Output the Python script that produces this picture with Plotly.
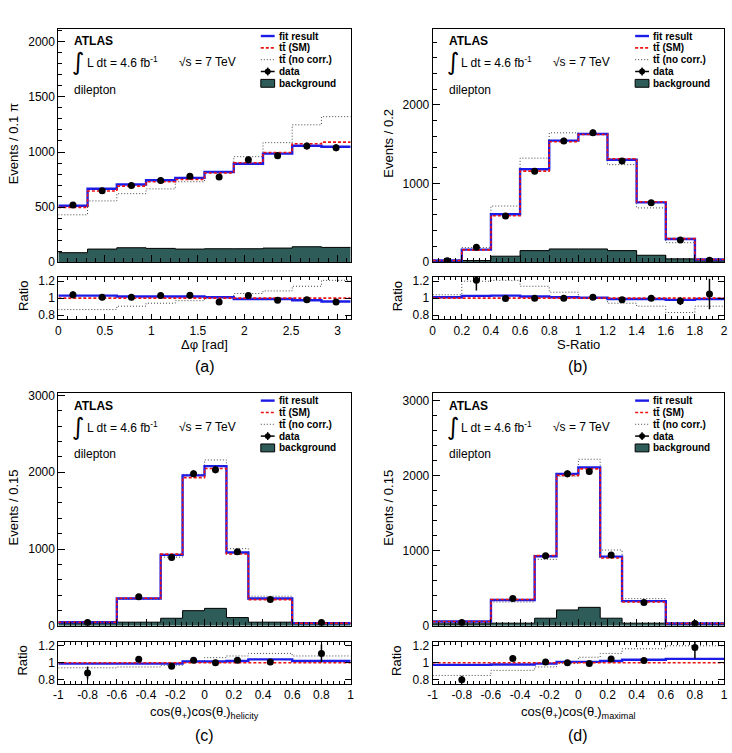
import numpy as np
import plotly.graph_objects as go

W, H = 732, 753
PI = float(np.pi)

# ---------------- data: panel (a) delta phi ----------------
edges_a = [k * 0.1 * PI for k in range(11)]
fit_a = [512, 667, 705, 744, 765, 818, 893, 985, 1057, 1048]
sm_a = [497, 646, 690, 730, 750, 810, 903, 995, 1075, 1090]
nocorr_a = [430, 556, 622, 665, 730, 818, 958, 1085, 1247, 1321]
data_a = [518, 648, 697, 742, 780, 774, 929, 967, 1054, 1039]
err_a = [23, 25, 26, 27, 28, 28, 30, 31, 32, 32]
bg_a = [86, 119, 131, 125, 119, 122, 122, 128, 140, 134]
rfit_a = [1.03, 1.03, 1.02, 1.02, 1.02, 1.01, 0.99, 0.99, 0.975, 0.96]
rnoc_a = [0.865, 0.865, 0.905, 0.94, 0.97, 1.01, 1.055, 1.085, 1.14, 1.21]
rdat_a = [1.04, 1.01, 1.01, 1.03, 1.035, 0.955, 1.03, 0.975, 0.98, 0.955]
rerr_a = [0.04, 0.035, 0.035, 0.035, 0.035, 0.035, 0.03, 0.03, 0.03, 0.03]

# ---------------- data: panel (b) S-ratio ----------------
edges_b = [0, 0.2, 0.4, 0.6, 0.8, 1.0, 1.2, 1.4, 1.6, 1.8, 2.0]
fit_b = [21, 160, 609, 1181, 1546, 1630, 1303, 761, 294, 34]
sm_b = [21, 156, 591, 1158, 1531, 1624, 1316, 769, 300, 34]
nocorr_b = [22, 185, 714, 1323, 1645, 1625, 1240, 690, 248, 31]
data_b = [17, 189, 588, 1155, 1542, 1647, 1286, 756, 282, 25]
err_b = [4, 14, 24, 34, 39, 41, 36, 27, 17, 5]
bg_b = [13, 21, 76, 147, 168, 168, 147, 88, 42, 17]
rfit_b = [1.01, 1.027, 1.03, 1.02, 1.01, 1.004, 0.99, 0.99, 0.98, 0.99]
rnoc_b = [1.04, 1.2, 1.21, 1.14, 1.07, 1.0, 0.94, 0.905, 0.83, 0.905]
rdat_b = [None, 1.21, 0.995, 1.0, 1.0, 1.01, 0.98, 1.0, 0.965, 1.05]
rerr_b = [0, 0.12, 0.03, 0.025, 0.02, 0.02, 0.025, 0.03, 0.045, 0.18]

# ---------------- data: panel (c) helicity ----------------
edges_c = [-1, -0.6, -0.3, -0.15, 0, 0.15, 0.3, 0.6, 1]
fit_c = [47, 355, 924, 1960, 2080, 954, 355, 34]
sm_c = [47, 359, 933, 1931, 2049, 935, 341, 33]
nocorr_c = [44, 342, 895, 1973, 2161, 1005, 385, 36]
data_c = [43, 377, 890, 1981, 2033, 963, 342, 43]
err_c = [7, 19, 30, 45, 45, 31, 18, 7]
bg_c = [34, 47, 98, 197, 227, 107, 47, 30]
rfit_c = [0.99, 0.99, 0.99, 1.015, 1.015, 1.02, 1.04, 1.02]
rnoc_c = [0.94, 0.95, 0.97, 1.02, 1.06, 1.08, 1.11, 1.08]
rdat_c = [0.88, 1.04, 0.96, 1.03, 1.0, 1.03, 1.01, 1.11]
rerr_c = [0.075, 0.03, 0.03, 0.02, 0.02, 0.03, 0.03, 0.105]

# ---------------- data: panel (d) maximal ----------------
edges_d = [-1, -0.6, -0.3, -0.15, 0, 0.15, 0.3, 0.6, 1]
fit_d = [57, 343, 927, 2025, 2112, 922, 329, 31]
sm_d = [58, 350, 936, 2005, 2091, 904, 318, 30]
nocorr_d = [47, 317, 885, 1995, 2220, 1010, 362, 36]
data_d = [45, 365, 935, 2025, 2055, 944, 312, 31]
err_d = [7, 19, 31, 45, 45, 31, 18, 6]
bg_d = [26, 35, 101, 211, 246, 101, 35, 26]
rfit_d = [0.975, 0.98, 0.99, 1.01, 1.01, 1.02, 1.035, 1.045]
rnoc_d = [0.85, 0.91, 0.95, 0.99, 1.065, 1.11, 1.165, 1.2]
rdat_d = [0.80, 1.05, 1.01, 1.0, 0.99, 1.045, 1.025, 1.18]
rerr_d = [0.045, 0.03, 0.03, 0.02, 0.02, 0.03, 0.03, 0.13]

# ---------------- axis labels ----------------
xticks_a = [0, 0.5, 1, 1.5, 2, 2.5, 3]
xticks_b = [0, 0.2, 0.4, 0.6, 0.8, 1, 1.2, 1.4, 1.6, 1.8, 2]
xticks_cd = [-1, -0.8, -0.6, -0.4, -0.2, 0, 0.2, 0.4, 0.6, 0.8, 1]
yticks_a = [0, 500, 1000, 1500, 2000]
yticks_b = [0, 1000, 2000]
yticks_cd = [0, 1000, 2000, 3000]
rticks = [0.8, 1, 1.2]

panels = [
    dict(edges=edges_a, fit=fit_a, sm=sm_a, noc=nocorr_a, dat=data_a, err=err_a, bg=bg_a,
         rfit=rfit_a, rnoc=rnoc_a, rdat=rdat_a, rerr=rerr_a, xr=[0, PI], yr=[0, 2120],
         xt=xticks_a, yt=yticks_a, ymin=100, xmin=0.1, ytitle="Events / 0.1 π",
         xtitle="Δφ [rad]", lab="(a)"),
    dict(edges=edges_b, fit=fit_b, sm=sm_b, noc=nocorr_b, dat=data_b, err=err_b, bg=bg_b,
         rfit=rfit_b, rnoc=rnoc_b, rdat=rdat_b, rerr=rerr_b, xr=[0, 2], yr=[0, 2970],
         xt=xticks_b, yt=yticks_b, ymin=200, xmin=0.04, ytitle="Events / 0.2",
         xtitle="S-Ratio", lab="(b)"),
    dict(edges=edges_c, fit=fit_c, sm=sm_c, noc=nocorr_c, dat=data_c, err=err_c, bg=bg_c,
         rfit=rfit_c, rnoc=rnoc_c, rdat=rdat_c, rerr=rerr_c, xr=[-1, 1], yr=[0, 3030],
         xt=xticks_cd, yt=yticks_cd, ymin=200, xmin=0.04, ytitle="Events / 0.15",
         xtitle="cos(θ<sub>+</sub>)cos(θ<sub>-</sub>)<sub>helicity</sub>", lab="(c)"),
    dict(edges=edges_d, fit=fit_d, sm=sm_d, noc=nocorr_d, dat=data_d, err=err_d, bg=bg_d,
         rfit=rfit_d, rnoc=rnoc_d, rdat=rdat_d, rerr=rerr_d, xr=[-1, 1], yr=[0, 3100],
         xt=xticks_cd, yt=yticks_cd, ymin=200, xmin=0.04, ytitle="Events / 0.15",
         xtitle="cos(θ<sub>+</sub>)cos(θ<sub>-</sub>)<sub>maximal</sub>", lab="(d)"),
]

FONT = "Liberation Sans, Arial, Helvetica, sans-serif"
TEAL = "#2e5c58"
BLUE = "#1c1ce6"
RED = "#ee1111"
GREY = "#444444"
RDASH = "3px,2px"
GDOT = "1px,2px"


def X(p):
    return p / W


def Y(p):
    return 1 - p / H


def fmt(v):
    return "%g" % v


cols = [(54, 350), (433, 728)]
rows = [dict(mt=25, mb=262, rt=277, rb=320, title=346, lab=368),
        dict(mt=395, mb=631, rt=647, rb=690, title=719, lab=742)]

fig = go.Figure()
layout = {}
shapes = []
ann = []


def axname(n, kind):
    return kind if n == 1 else f"{kind}{n}"


def step_y(v):
    return list(v) + [v[-1]]


def text(x, y, s, size=12, family=FONT, anchor="left", angle=0):
    ann.append(dict(x=X(x), y=Y(y), xref="paper", yref="paper", text=s, showarrow=False,
                    xanchor=anchor, yanchor="middle", textangle=angle,
                    font=dict(family=family, size=size, color="black")))


for i, P in enumerate(panels):
    L, R = cols[i % 2]
    row = rows[i // 2]
    T = row["mt"]
    nm, nr = 2 * i + 1, 2 * i + 2
    xm, ym = axname(nm, "x"), axname(nm, "y")
    xr, yr = axname(nr, "x"), axname(nr, "y")
    e = P["edges"]
    centers = [(e[k] + e[k + 1]) / 2 for k in range(len(e) - 1)]

    # ---- main panel ----
    fig.add_trace(go.Scatter(x=e, y=step_y(P["bg"]), mode="lines", line_shape="hv",
                             fill="tozeroy", fillcolor=TEAL,
                             line=dict(color="black", width=1), xaxis=xm, yaxis=ym,
                             showlegend=False, hoverinfo="skip"))
    fig.add_trace(go.Scatter(x=e, y=step_y(P["noc"]), mode="lines", line_shape="hv",
                             line=dict(color=GREY, width=1, dash=GDOT), xaxis=xm, yaxis=ym,
                             showlegend=False))
    fig.add_trace(go.Scatter(x=e, y=step_y(P["fit"]), mode="lines", line_shape="hv",
                             line=dict(color=BLUE, width=2.4), xaxis=xm, yaxis=ym,
                             showlegend=False))
    fig.add_trace(go.Scatter(x=e, y=step_y(P["sm"]), mode="lines", line_shape="hv",
                             line=dict(color=RED, width=1.6, dash=RDASH), xaxis=xm, yaxis=ym,
                             showlegend=False))
    fig.add_trace(go.Scatter(x=centers, y=P["dat"], mode="markers",
                             marker=dict(color="black", size=7),
                             error_y=dict(type="data", array=P["err"], width=0, thickness=1.5,
                                          color="black"),
                             xaxis=xm, yaxis=ym, showlegend=False))

    # ---- ratio panel ----
    rsm = [a / b for a, b in zip(P["sm"], P["sm"])]
    fig.add_trace(go.Scatter(x=e, y=step_y(P["rnoc"]), mode="lines", line_shape="hv",
                             line=dict(color=GREY, width=1, dash=GDOT), xaxis=xr, yaxis=yr,
                             showlegend=False))
    fig.add_trace(go.Scatter(x=e, y=step_y(P["rfit"]), mode="lines", line_shape="hv",
                             line=dict(color=BLUE, width=2.4), xaxis=xr, yaxis=yr,
                             showlegend=False))
    fig.add_trace(go.Scatter(x=e, y=step_y(rsm), mode="lines", line_shape="hv",
                             line=dict(color=RED, width=1.6, dash=RDASH), xaxis=xr, yaxis=yr,
                             showlegend=False))
    fig.add_trace(go.Scatter(x=centers, y=P["rdat"], mode="markers",
                             marker=dict(color="black", size=7),
                             error_y=dict(type="data", array=P["rerr"], width=0, thickness=1.5,
                                          color="black"),
                             xaxis=xr, yaxis=yr, showlegend=False))

    xdom = [X(L), X(R)]
    common = dict(showline=True, linecolor="black", linewidth=1, showgrid=False,
                  zeroline=False, ticks="inside", tickcolor="black",
                  tickfont=dict(family=FONT, size=12, color="black"))
    layout[axname(nm, "xaxis")] = dict(common, domain=xdom, range=P["xr"], anchor=ym,
                                       mirror=True, tickmode="array", tickvals=P["xt"],
                                       showticklabels=False, ticklen=7,
                                       minor=dict(ticks="inside", ticklen=4, tick0=P["xr"][0],
                                                  dtick=P["xmin"], tickcolor="black"))
    layout[axname(nm, "yaxis")] = dict(common, domain=[Y(row["mb"]), Y(row["mt"])],
                                       range=P["yr"], anchor=xm, mirror=True,
                                       tickmode="array", tickvals=P["yt"],
                                       ticktext=[fmt(v) for v in P["yt"]], ticklen=7,
                                       minor=dict(ticks="inside", ticklen=4, tick0=0,
                                                  dtick=P["ymin"], tickcolor="black"))
    layout[axname(nr, "xaxis")] = dict(common, domain=xdom, range=P["xr"], anchor=yr,
                                       mirror="ticks", tickmode="array", tickvals=P["xt"],
                                       ticktext=[fmt(v) for v in P["xt"]], ticklen=5,
                                       minor=dict(ticks="inside", ticklen=3, tick0=P["xr"][0],
                                                  dtick=P["xmin"], tickcolor="black"))
    layout[axname(nr, "yaxis")] = dict(common, domain=[Y(row["rb"]), Y(row["rt"])],
                                       range=[0.75, 1.25], anchor=xr, mirror="ticks",
                                       tickmode="array", tickvals=rticks,
                                       ticktext=[fmt(v) for v in rticks], ticklen=6)

    # ---- axis titles and panel labels ----
    text(L - 45, (row["mt"] + row["mb"]) / 2 - 2, P["ytitle"], 13, anchor="center", angle=-90)
    text(L - 36, (row["rt"] + row["rb"]) / 2 - 2, "Ratio", 13, anchor="center", angle=-90)
    text((L + R) / 2, row["title"], P["xtitle"], 13, anchor="center")
    text((L + R) / 2, row["lab"], P["lab"], 16, anchor="center")

    # ---- ATLAS text block ----
    text(L + 14, T + 12.5, "<b>ATLAS</b>", 12)
    text(L + 12, T + 34, "∫", 24, family="DejaVu Sans")
    text(L + 27, T + 34, "L dt = 4.6 fb<sup>-1</sup>", 12)
    text(L + 120, T + 34, "√s = 7 TeV", 12)
    text(L + 14, T + 62, "dilepton", 12)

    # ---- legend ----
    x0, x1, xt = L + 205, L + 219, L + 221
    ys = [T + 7.5, T + 19.5, T + 31.5, T + 43.5, T + 55.5]
    labels = ["fit result", "tt\u0304 (SM)", "tt\u0304 (no corr.)", "data", "background"]
    shapes.append(dict(type="line", xref="paper", yref="paper", x0=X(x0), x1=X(x1),
                       y0=Y(ys[0]), y1=Y(ys[0]), line=dict(color=BLUE, width=2.4)))
    shapes.append(dict(type="line", xref="paper", yref="paper", x0=X(x0), x1=X(x1),
                       y0=Y(ys[1]), y1=Y(ys[1]), line=dict(color=RED, width=1.6, dash=RDASH)))
    shapes.append(dict(type="line", xref="paper", yref="paper", x0=X(x0), x1=X(x1),
                       y0=Y(ys[2]), y1=Y(ys[2]), line=dict(color=GREY, width=1, dash=GDOT)))
    shapes.append(dict(type="line", xref="paper", yref="paper", x0=X(x0), x1=X(x1),
                       y0=Y(ys[3]), y1=Y(ys[3]), line=dict(color="black", width=1.5)))
    xc = (x0 + x1) / 2
    shapes.append(dict(type="line", xref="paper", yref="paper", x0=X(xc), x1=X(xc),
                       y0=Y(ys[3] - 4), y1=Y(ys[3] + 4), line=dict(color="black", width=1.5)))
    shapes.append(dict(type="circle", xref="paper", yref="paper", x0=X(xc - 3), x1=X(xc + 3),
                       y0=Y(ys[3] + 3), y1=Y(ys[3] - 3), fillcolor="black",
                       line=dict(color="black", width=0)))
    shapes.append(dict(type="rect", xref="paper", yref="paper", x0=X(x0), x1=X(x1),
                       y0=Y(ys[4] + 4), y1=Y(ys[4] - 4), fillcolor=TEAL,
                       line=dict(color="black", width=1)))
    for yy, lb in zip(ys, labels):
        text(xt, yy, "<b>" + lb + "</b>", 10)

fig.update_layout(**layout)
fig.update_layout(width=W, height=H, margin=dict(l=0, r=0, t=0, b=0), autosize=False,
                  paper_bgcolor="white", plot_bgcolor="white", showlegend=False,
                  font=dict(family=FONT, size=12, color="black"),
                  shapes=shapes, annotations=ann)

fig.write_html("out.html", config={"displayModeBar": False})
